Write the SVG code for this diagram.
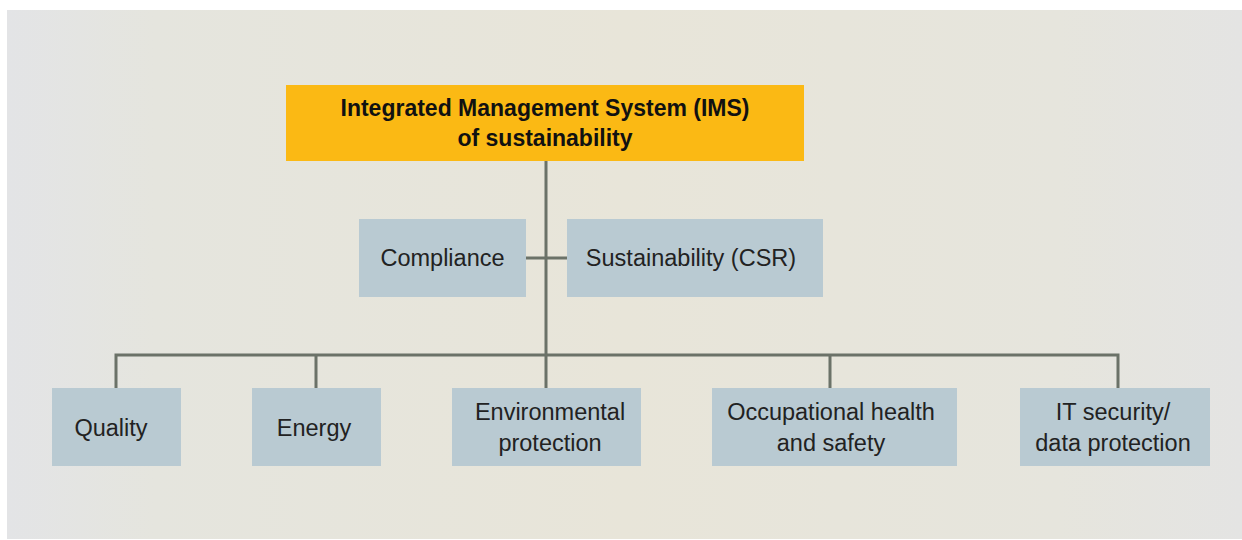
<svg xmlns="http://www.w3.org/2000/svg" width="1242" height="540" viewBox="0 0 1242 540">
<defs>
<linearGradient id="bg" x1="0" y1="0" x2="1" y2="0">
<stop offset="0" stop-color="#e3e4e6"/>
<stop offset="0.12" stop-color="#e5e5de"/>
<stop offset="0.5" stop-color="#e8e5d9"/>
<stop offset="0.85" stop-color="#e6e5dd"/>
<stop offset="1" stop-color="#e4e4e3"/>
</linearGradient>
<style>
.box{fill:#b9cad2}
.t{font-family:"Liberation Sans",Arial,sans-serif;font-size:23.5px;fill:#222;text-anchor:middle}
.tb{font-family:"Liberation Sans",Arial,sans-serif;font-size:23px;font-weight:bold;fill:#111;text-anchor:middle}
.ln{stroke:#6b7268;stroke-width:3;fill:none}
</style>
</defs>
<rect width="1242" height="540" fill="#ffffff"/>
<rect x="7" y="10" width="1235" height="529" fill="url(#bg)"/>
<g id="connectors">
<path class="ln" d="M546 161V355M526 258H567M116 388V355H1118V388M316 355V388M546 355V388M830 355V388"/>
</g>
<g id="ims">
<rect x="286" y="85" width="518" height="76" fill="#fbb914"/>
<text class="tb" x="545" y="116">Integrated Management System (IMS)</text>
<text class="tb" x="545" y="146">of sustainability</text>
</g>
<g id="compliance">
<rect class="box" x="359" y="219" width="167" height="78"/>
<text class="t" x="442.5" y="266">Compliance</text>
</g>
<g id="csr">
<rect class="box" x="567" y="219" width="256" height="78"/>
<text class="t" x="691" y="266">Sustainability (CSR)</text>
</g>
<g id="quality">
<rect class="box" x="52" y="388" width="129" height="78"/>
<text class="t" x="111" y="436">Quality</text>
</g>
<g id="energy">
<rect class="box" x="252" y="388" width="129" height="78"/>
<text class="t" x="314" y="436">Energy</text>
</g>
<g id="environmental">
<rect class="box" x="452" y="388" width="189" height="78"/>
<text class="t" x="550" y="420">Environmental</text>
<text class="t" x="550" y="451">protection</text>
</g>
<g id="occupational">
<rect class="box" x="712" y="388" width="245" height="78"/>
<text class="t" x="831" y="420">Occupational health</text>
<text class="t" x="831" y="451">and safety</text>
</g>
<g id="itsecurity">
<rect class="box" x="1020" y="388" width="190" height="78"/>
<text class="t" x="1113" y="420">IT security/</text>
<text class="t" x="1113" y="451">data protection</text>
</g>
</svg>
